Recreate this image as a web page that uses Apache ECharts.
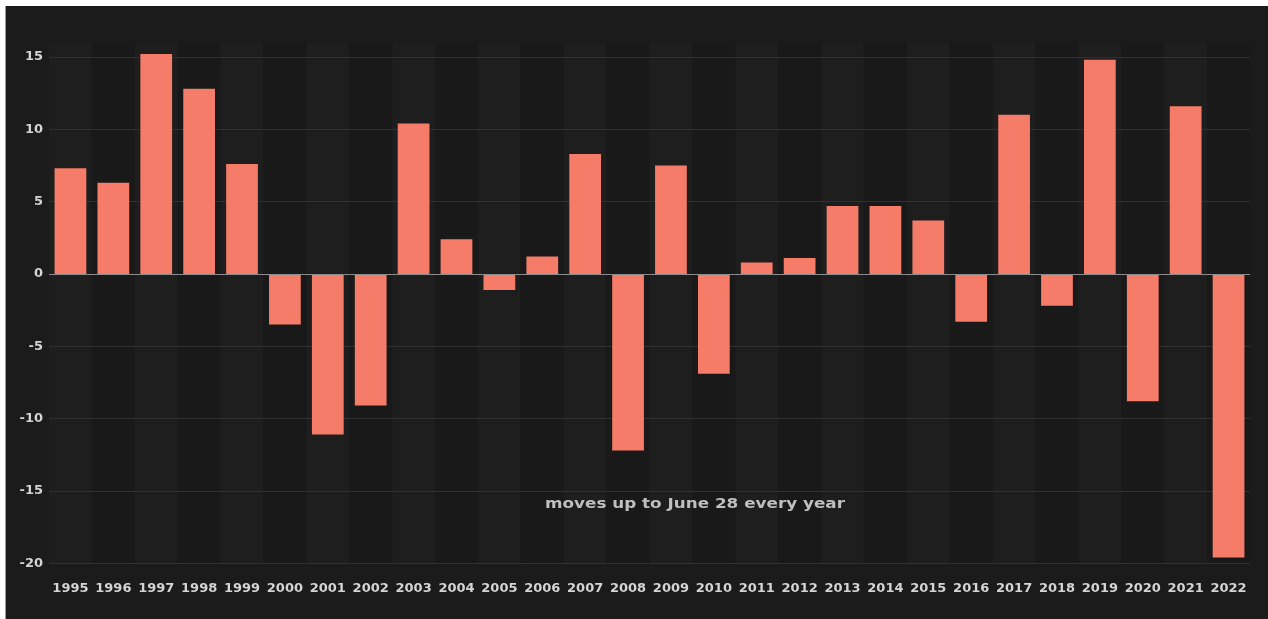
<!DOCTYPE html>
<html>
<head>
<meta charset="utf-8">
<script src="https://cdn.jsdelivr.net/npm/echarts@6/dist/echarts.min.js"></script>
<style>
  html, body { margin: 0; padding: 0; background: #ffffff; width: 1268px; height: 619px; overflow: hidden; }
  #chart { position: absolute; left: 6px; top: 6px; width: 1262px; height: 613px; background: #1b1b1b; }
  #edge { position: absolute; left: 5px; top: 6px; width: 1px; height: 613px; background: #9a9a9a; }
</style>
</head>
<body>
<div id="edge"></div>
<div id="chart"></div>
<script>
const years = ['1995','1996','1997','1998','1999','2000','2001','2002','2003','2004','2005','2006','2007','2008','2009','2010','2011','2012','2013','2014','2015','2016','2017','2018','2019','2020','2021','2022'];
const moves = [7.3, 6.3, 15.2, 12.8, 7.6, -3.5, -11.1, -9.1, 10.4, 2.4, -1.1, 1.2, 8.3, -12.2, 7.5, -6.9, 0.8, 1.1, 4.7, 4.7, 3.7, -3.3, 11.0, -2.2, 14.8, -8.8, 11.6, -19.6];
const annotation = 'moves up to June 28 every year';

const chart = echarts.init(document.getElementById('chart'));
chart.setOption({
  backgroundColor: '#1b1b1b',
  animation: false,
  grid: { left: 43, right: 18, top: 36.5, bottom: 55.7 },
  xAxis: {
    type: 'category',
    data: years,
    z: 0,
    axisLine: { show: false },
    axisTick: { show: false },
    axisLabel: {
      color: '#d4d4d4', fontFamily: 'DejaVu Sans', fontWeight: 'bold', fontSize: 13,
      margin: 19, interval: 0
    },
    splitArea: { show: true, areaStyle: { color: ['#1e1e1e', '#191919'] } }
  },
  yAxis: {
    type: 'value',
    z: 1,
    min: -20, max: 16, interval: 5,
    axisLine: { show: false },
    axisTick: { show: false },
    axisLabel: {
      color: '#d4d4d4', fontFamily: 'DejaVu Sans', fontWeight: 'bold', fontSize: 13,
      margin: 6, showMaxLabel: false
    },
    splitLine: { show: true, showMaxLine: false, lineStyle: { color: '#303030', width: 1 } }
  },
  graphic: [{
    type: 'text', x: 539, y: 491, z: 10, scaleX: 1.2,
    style: {
      text: annotation, fill: '#bfbfbf',
      fontFamily: 'DejaVu Sans', fontSize: 14, fontWeight: 'bold'
    }
  }],
  series: [{
    type: 'bar',
    data: moves,
    z: 2,
    barCategoryGap: '26%',
    itemStyle: { color: '#f47c68' },
    markLine: {
      silent: true, symbol: 'none', label: { show: false },
      lineStyle: { color: '#8c8c8c', type: 'solid', width: 1 },
      data: [{ yAxis: 0 }]
    }
  }]
});
</script>
</body>
</html>
